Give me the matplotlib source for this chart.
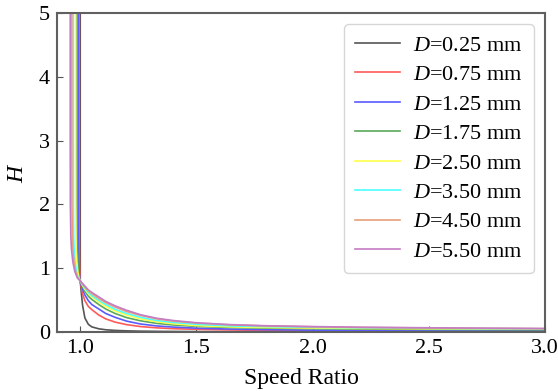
import matplotlib
matplotlib.use("Agg")
import matplotlib.pyplot as plt
import numpy as np

plt.rcParams['font.family'] = ['Liberation Serif', 'DejaVu Serif']
plt.rcParams['mathtext.fontset'] = 'custom'
plt.rcParams['mathtext.rm'] = 'Liberation Serif'
plt.rcParams['mathtext.it'] = 'Liberation Serif:italic'

labels = ["0.25", "0.75", "1.25", "1.75", "2.50", "3.50", "4.50", "5.50"]
colors = ["#555555", "#ff5a5a", "#5a5aff", "#5aa85a", "#ffff4a", "#4affff", "#e8a07a", "#c47cc4"]

# left branch (speed ratio < 1): H values shared, x per series
H_left = [5.2, 3.0, 2.0, 1.5, 1.3, 1.1, 0.95, 0.85]
x_left_025 = [1.0, 1.0, 1.0, 1.0, 1.0, 1.0, 1.0, 1.0]
x_left_075 = [0.996, 0.996, 0.996, 0.9962, 0.9965, 0.997, 0.9978, 0.9988]
x_left_125 = [0.991, 0.991, 0.9911, 0.9915, 0.9921, 0.9933, 0.995, 0.9973]
x_left_175 = [0.986, 0.986, 0.9861, 0.9868, 0.9877, 0.9896, 0.9923, 0.9958]
x_left_250 = [0.980, 0.980, 0.9802, 0.9812, 0.9824, 0.9852, 0.989, 0.994]
x_left_350 = [0.970, 0.970, 0.9703, 0.9718, 0.9736, 0.9778, 0.9835, 0.991]
x_left_450 = [0.964, 0.964, 0.9644, 0.9662, 0.9683, 0.9734, 0.9802, 0.9892]
x_left_550 = [0.957, 0.957, 0.9574, 0.9596, 0.9622, 0.9682, 0.9764, 0.9871]

# right branch (speed ratio >= 1): x shared, H per series
x_right = [1.0, 1.005, 1.01, 1.02, 1.035, 1.05, 1.08, 1.11, 1.15, 1.2, 1.26, 1.33,
           1.4, 1.5, 1.65, 1.8, 2.0, 2.2, 2.5, 2.75, 3.0]
H_025 = [0.80, 0.60, 0.42, 0.22, 0.12, 0.08, 0.05, 0.035, 0.025, 0.018, 0.013, 0.010,
         0.008, 0.006, 0.005, 0.004, 0.003, 0.003, 0.002, 0.002, 0.002]
H_075 = [0.80, 0.69, 0.60, 0.49, 0.40, 0.35, 0.265, 0.205, 0.155, 0.115, 0.085, 0.065,
         0.052, 0.042, 0.032, 0.025, 0.019, 0.015, 0.012, 0.010, 0.009]
H_125 = [0.80, 0.73, 0.67, 0.58, 0.49, 0.43, 0.36, 0.29, 0.23, 0.17, 0.125, 0.095,
         0.077, 0.060, 0.045, 0.036, 0.029, 0.025, 0.021, 0.019, 0.017]
H_175 = [0.80, 0.755, 0.71, 0.64, 0.56, 0.51, 0.43, 0.36, 0.29, 0.225, 0.175, 0.135,
         0.11, 0.088, 0.07, 0.06, 0.052, 0.046, 0.040, 0.037, 0.034]
H_250 = [0.80, 0.765, 0.73, 0.67, 0.60, 0.55, 0.47, 0.40, 0.33, 0.265, 0.205, 0.16,
         0.13, 0.10, 0.08, 0.07, 0.062, 0.056, 0.050, 0.047, 0.044]
H_350 = [0.80, 0.77, 0.74, 0.69, 0.62, 0.57, 0.495, 0.43, 0.355, 0.29, 0.23, 0.18,
         0.15, 0.12, 0.095, 0.085, 0.074, 0.066, 0.058, 0.053, 0.050]
H_450 = [0.80, 0.775, 0.75, 0.705, 0.645, 0.60, 0.525, 0.46, 0.39, 0.32, 0.26, 0.205,
         0.17, 0.14, 0.11, 0.095, 0.082, 0.072, 0.063, 0.057, 0.052]
H_550 = [0.80, 0.78, 0.76, 0.72, 0.66, 0.62, 0.55, 0.48, 0.41, 0.34, 0.27, 0.215,
         0.18, 0.145, 0.115, 0.098, 0.085, 0.075, 0.066, 0.060, 0.055]

x_lefts = [x_left_025, x_left_075, x_left_125, x_left_175,
           x_left_250, x_left_350, x_left_450, x_left_550]
H_rights = [H_025, H_075, H_125, H_175, H_250, H_350, H_450, H_550]

fig = plt.figure(figsize=(5.58, 3.91), dpi=100)
ax = fig.add_axes([57/558, 1-332/391, (545-57)/558, (332-13)/391])

for lab, col, xl, hr in zip(labels, colors, x_lefts, H_rights):
    xs = list(xl) + list(x_right)
    ys = list(H_left) + list(hr)
    ax.plot(xs, ys, color=col, lw=1.2, label=r"$D$=" + lab + " mm")

ax.set_xlim(0.9, 3.0)
ax.set_ylim(0, 5)
ax.set_xticks([1.0, 1.5, 2.0, 2.5, 3.0])
ax.set_xticklabels(["1.0", "1.5", "2.0", "2.5", "3.0"])
ax.set_yticks([0, 1, 2, 3, 4, 5])
ax.tick_params(direction='in', labelsize=16, length=4, color='#555555', pad=5)
for s in ax.spines.values():
    s.set_color('#606060')
    s.set_linewidth(1.5)
ax.set_xlabel("Speed Ratio", fontsize=17, labelpad=7)
ax.set_ylabel("$H$", fontsize=17, labelpad=8)

leg = ax.legend(loc='upper right', fontsize=16, handlelength=2.0, labelspacing=0.4,
                handletextpad=0.6, borderpad=0.5, frameon=True)

fig.savefig("out.png", dpi=100)
